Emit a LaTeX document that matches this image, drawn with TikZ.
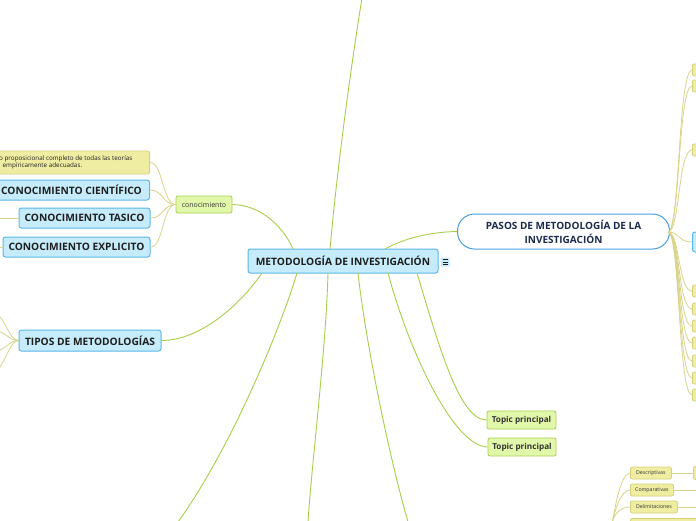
\documentclass[tikz,border=0pt]{standalone}
\usepackage{fontspec}
\setmainfont{Open Sans}
\definecolor{bluefill}{HTML}{C6ECFB}
\definecolor{bluedraw}{HTML}{5CB8E8}
\definecolor{pasosdraw}{HTML}{4A9FE0}
\definecolor{navy}{HTML}{1B2A4E}
\definecolor{textdark}{HTML}{1E1E1E}
\definecolor{textgrey}{HTML}{333333}
\definecolor{greenfill}{HTML}{E1F7A9}
\definecolor{greendraw}{HTML}{A9D24F}
\definecolor{greenline}{HTML}{A8CF4A}
\definecolor{yelfill}{HTML}{EFEDA2}
\definecolor{yeldraw}{HTML}{D6D17A}
\definecolor{yelline}{HTML}{D9D48A}
\tikzset{
 bluebox/.style={draw=bluedraw, fill=bluefill, line width=1pt, rounded corners=2.5pt, font=\bfseries\fontsize{10.2}{12}\selectfont, text=textdark, inner sep=0pt},
 greenbox/.style={draw=greendraw, fill=greenfill, line width=0.8pt, rounded corners=2pt, inner sep=0pt, text=textgrey},
 yelbox/.style={draw=yeldraw, fill=yelfill, line width=0.8pt, rounded corners=2pt, inner sep=0pt, text=textgrey, font=\fontsize{5.2}{6}\selectfont},
 gline/.style={draw=greenline, line width=0.9pt},
 yline/.style={draw=yelline, line width=0.8pt},
 smallyel/.style={yelbox, minimum width=20pt, minimum height=12pt, anchor=west},
}
\begin{document}
\begin{tikzpicture}[x=1pt,y=-1pt]
\clip (0,0) rectangle (696,520);
\fill[white] (0,0) rectangle (696,520);

% ---------- nodes ----------
\node[bluebox, minimum width=190pt, minimum height=24pt, font=\bfseries\fontsize{10.2}{12}\selectfont] (central) at (343,261) {METODOLOGÍA DE INVESTIGACIÓN};
\node[fill=bluefill, rounded corners=1pt, minimum size=9pt, inner sep=0pt] (icon) at (445,262) {};
\draw[textdark, line width=0.6pt] (442.5,259.5) -- (447.5,259.5) (442.5,262) -- (447.5,262) (442.5,264.5) -- (447.5,264.5);

\node[greenbox, minimum width=56pt, minimum height=17pt, font=\fontsize{7}{8}\selectfont] (conoc) at (204,204.5) {conocimiento};

\node[yelbox, minimum width=165pt, minimum height=23pt, anchor=east] (def) at (150,162.5) {};
\node[font=\fontsize{6.3}{7.5}\selectfont, text=textdark, align=left, anchor=west, inner sep=0pt] (deftext) at (-1,162.5) {o proposicional completo de todas las teorías\\\hspace{3.5pt}empíricamente adecuadas.};

\node[bluebox, minimum width=156pt, minimum height=20pt, anchor=east] (cient) at (150,190) {CONOCIMIENTO CIENTÍFICO};
\node[bluebox, minimum width=131pt, minimum height=20pt] (tasico) at (84.5,218) {CONOCIMIENTO TASICO};
\node[bluebox, minimum width=147pt, minimum height=20pt] (explicito) at (76.5,247) {CONOCIMIENTO EXPLICITO};
\node[bluebox, minimum width=142pt, minimum height=21pt] (tipos) at (90,340.5) {TIPOS DE METODOLOGÍAS};

\node[draw=pasosdraw, fill=white, line width=1pt, rounded corners=17pt, minimum width=212pt, minimum height=35pt, inner sep=0pt, align=center, text=navy, font=\bfseries\fontsize{10}{14}\selectfont] (pasos) at (563.5,231.5) {PASOS DE METODOLOGÍA DE LA\\INVESTIGACIÓN};

\node[greenbox, minimum width=69pt, minimum height=18pt, font=\bfseries\fontsize{8.2}{9}\selectfont] (topicA) at (521.5,420) {Topic principal};
\node[greenbox, minimum width=68pt, minimum height=18pt, font=\bfseries\fontsize{8.2}{9}\selectfont] (topicB) at (522,447) {Topic principal};

% right stack
\node[smallyel] (r1) at (692,70) {};
\node[smallyel] (r2) at (692,86) {};
\node[smallyel] (r3) at (692,150) {};
\node[bluebox, minimum width=20pt, minimum height=20pt, anchor=west] (rb) at (692,242) {};
\node[smallyel] (r4) at (692,291) {};
\node[smallyel] (r5) at (692,309) {};
\node[smallyel] (r6) at (692,326) {};
\node[smallyel] (r7) at (692,343) {};
\node[smallyel] (r8) at (692,361) {};
\node[smallyel] (r9) at (692,378) {};
\node[smallyel] (r10) at (692,395) {};

% bottom right
\node[yelbox, minimum width=41pt, minimum height=12pt, anchor=west] (desc) at (630,473) {Descriptivas};
\node[yelbox, minimum width=43pt, minimum height=12pt, anchor=west] (comp) at (630,490) {Comparativas};
\node[yelbox, minimum width=47pt, minimum height=12pt, anchor=west] (delim) at (630,507) {Delimitaciones};
\node[yelbox, minimum width=80pt, minimum height=14pt, anchor=north west] (b4) at (630,518) {};
\node[smallyel, minimum height=13pt] (descR) at (693,473) {};

% free ends
\coordinate (top) at (362,-2);
\coordinate (bl) at (178,522);
\coordinate (bm) at (308,522);
\coordinate (br) at (408,522);
\coordinate (tasL) at (-5,218);
\coordinate (expL) at (-5,247);
\coordinate (tl1) at (-8,312);
\coordinate (tl2) at (-8,330);
\coordinate (tl3) at (-8,352);
\coordinate (tl4) at (-8,372);
\coordinate (brO) at (612,524);
\coordinate (compR) at (698,490);
\coordinate (delimR) at (698,507);

% ---------- connectors ----------
\path[gline] (293,249) .. controls (284,228) and (262,205) .. (conoc.east);
\path[gline] (330,249) .. controls (338,160) and (352,60) .. (top);
\path[gline] (385,249) .. controls (405,238) and (430,232) .. (pasos.west);
\path[gline] (262,273) .. controls (240,305) and (200,340.5) .. (tipos.east);
\path[gline] (297,273) .. controls (280,330) and (230,450) .. (bl);
\path[gline] (328,273) .. controls (326,350) and (312,460) .. (bm);
\path[gline] (358,273) .. controls (366,345) and (390,460) .. (br);
\path[gline] (388,273) .. controls (410,355) and (455,447) .. (topicB.west);
\path[gline] (417,273) .. controls (440,350) and (460,420) .. (topicA.west);

\foreach \n in {def, cient, tasico, explicito}
  \path[yline] (conoc.west) .. controls +(-13,0) and +(13,0) .. (\n.east);
\path[yline] (tasico.west) -- (tasL);
\path[yline] (explicito.west) -- (expL);
\foreach \c in {tl1, tl2, tl3, tl4}
  \path[yline] (tipos.west) .. controls +(-10,0) and +(12,0) .. (\c);

\foreach \n in {r1, r2, r3, rb, r4, r5, r6, r7, r8, r9, r10}
  \path[yline] (668,232) .. controls +(12,0) and +(-14,0) .. (\n.west);

\foreach \n in {desc, comp, delim}
  \path[yline] (brO) .. controls +(2,-10) and +(-10,0) .. (\n.west);
\path[yline] (brO) .. controls +(4,-4) and +(-10,0) .. (b4.west);
\path[yline] (desc.east) -- (descR.west);
\path[yline] (comp.east) -- (compR);
\path[yline] (delim.east) -- (delimR);
\end{tikzpicture}
\end{document}
